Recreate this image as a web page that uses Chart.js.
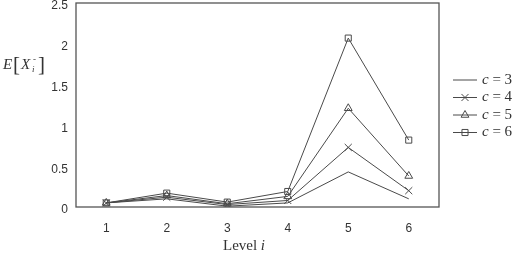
<!DOCTYPE html>
<html>
<head>
<meta charset="utf-8">
<script src="https://cdn.jsdelivr.net/npm/chart.js@4"></script>
<style>
  html, body { margin: 0; padding: 0; background: #fff; }
  #wrap { width: 516px; height: 262px; }
</style>
</head>
<body>
<div id="wrap"><canvas id="chart" width="516" height="262"></canvas></div>
<script>
// values
const levels = ['1', '2', '3', '4', '5', '6'];
const seriesNames = ['3', '4', '5', '6'];
const c3 = [0.05, 0.10, 0.01, 0.05, 0.43, 0.10];
const c4 = [0.05, 0.12, 0.03, 0.08, 0.73, 0.20];
const c5 = [0.05, 0.14, 0.04, 0.13, 1.21, 0.38];
const c6 = [0.05, 0.17, 0.06, 0.19, 2.07, 0.82];
const yTicks = [0, 0.5, 1, 1.5, 2, 2.5];

const lineColor = '#4a4a4a';
const markers = [false, 'crossRot', 'triangle', 'rect'];
const markerSize = [0, 5, 4.5, 4.3];

function makeSet(name, values, i) {
    return {
        label: 'c = ' + name,
        data: values,
        borderColor: lineColor,
        borderWidth: 1,
        backgroundColor: 'rgba(0,0,0,0)',
        pointStyle: markers[i] || 'circle',
        pointRadius: markerSize[i],
        pointBorderColor: lineColor,
        pointBorderWidth: 1,
        pointBackgroundColor: 'rgba(0,0,0,0)',
        tension: 0
    };
}

const datasets = [c3, c4, c5, c6].map((v, i) => makeSet(seriesNames[i], v, i));

// box, legend and axis titles with mixed italics
const extras = {
    id: 'extras',
    afterDraw(chart) {
        const ctx = chart.ctx;
        const a = chart.chartArea;
        ctx.save();
        ctx.strokeStyle = '#555';
        ctx.lineWidth = 1.3;
        ctx.strokeRect(a.left, a.top, a.right - a.left, a.bottom - a.top);

        ctx.textBaseline = 'middle';

        // legend
        chart.data.datasets.forEach((ds, i) => {
            const y = 80 + i * 17.5;
            ctx.strokeStyle = lineColor;
            ctx.lineWidth = 1;
            ctx.beginPath();
            ctx.moveTo(453, y);
            ctx.lineTo(477, y);
            ctx.stroke();
            if (markers[i]) {
                ctx.fillStyle = 'rgba(0,0,0,0)';
                Chart.helpers.drawPoint(ctx, {
                    pointStyle: markers[i],
                    radius: markerSize[i],
                    borderWidth: 1,
                    rotation: 0
                }, 465, y);
            }
            ctx.fillStyle = '#333';
            ctx.textAlign = 'left';
            ctx.font = 'italic 15px "Liberation Serif"';
            ctx.fillText('c', 482, y);
            const w = ctx.measureText('c').width;
            ctx.font = '15px "Liberation Serif"';
            ctx.fillText(' = ' + seriesNames[i], 482 + w, y);
        });

        ctx.fillStyle = '#333';
        // x title: Level i
        ctx.font = '15px "Liberation Serif"';
        const t1 = 'Level ';
        const w1 = ctx.measureText(t1).width;
        ctx.font = 'italic 15px "Liberation Serif"';
        const w2 = ctx.measureText('i').width;
        let x0 = 244 - (w1 + w2) / 2;
        ctx.font = '15px "Liberation Serif"';
        ctx.fillText(t1, x0, 246);
        ctx.font = 'italic 15px "Liberation Serif"';
        ctx.fillText('i', x0 + w1, 246);

        // y title: E[X_i^-]
        const yc = 65;
        ctx.font = 'italic 15px "Liberation Serif"';
        ctx.fillText('E', 3, yc);
        ctx.font = '21px "Liberation Serif"';
        ctx.fillText('[', 13, yc);
        ctx.font = 'italic 15px "Liberation Serif"';
        ctx.fillText('X', 21, yc);
        ctx.font = 'italic 9px "Liberation Serif"';
        ctx.fillText('i', 32, yc + 5);
        ctx.font = '9px "Liberation Serif"';
        ctx.fillText('-', 33, yc - 5);
        ctx.font = '21px "Liberation Serif"';
        ctx.fillText(']', 38, yc);
        ctx.restore();
    }
};

new Chart(document.getElementById('chart'), {
    type: 'line',
    data: { labels: levels, datasets: datasets },
    options: {
        responsive: false,
        animation: false,
        layout: {
            autoPadding: false,
            padding: { top: 3, right: 77, bottom: 0, left: 0 }
        },
        plugins: {
            legend: { display: false },
            tooltip: { enabled: false }
        },
        scales: {
            x: {
                offset: true,
                grid: { display: false, drawTicks: false },
                border: { display: false },
                ticks: {
                    color: '#333',
                    padding: 14,
                    font: { family: '"Liberation Sans"', size: 12 }
                },
                afterFit(scale) {
                    scale.height = 55;
                    scale.paddingLeft = 0;
                    scale.paddingRight = 0;
                }
            },
            y: {
                min: 0,
                max: 2.5,
                grid: { display: false, drawTicks: false },
                border: { display: false },
                afterBuildTicks(scale) { scale.ticks = yTicks.map(v => ({ value: v })); },
                ticks: {
                    color: '#333',
                    padding: 8,
                    labelOffset: 3,
                    font: { family: '"Liberation Sans"', size: 12 },
                    callback: value => String(value)
                },
                afterFit(scale) {
                    scale.width = 76;
                    scale.paddingTop = 0;
                    scale.paddingBottom = 0;
                }
            }
        }
    },
    plugins: [extras]
});
</script>
</body>
</html>
